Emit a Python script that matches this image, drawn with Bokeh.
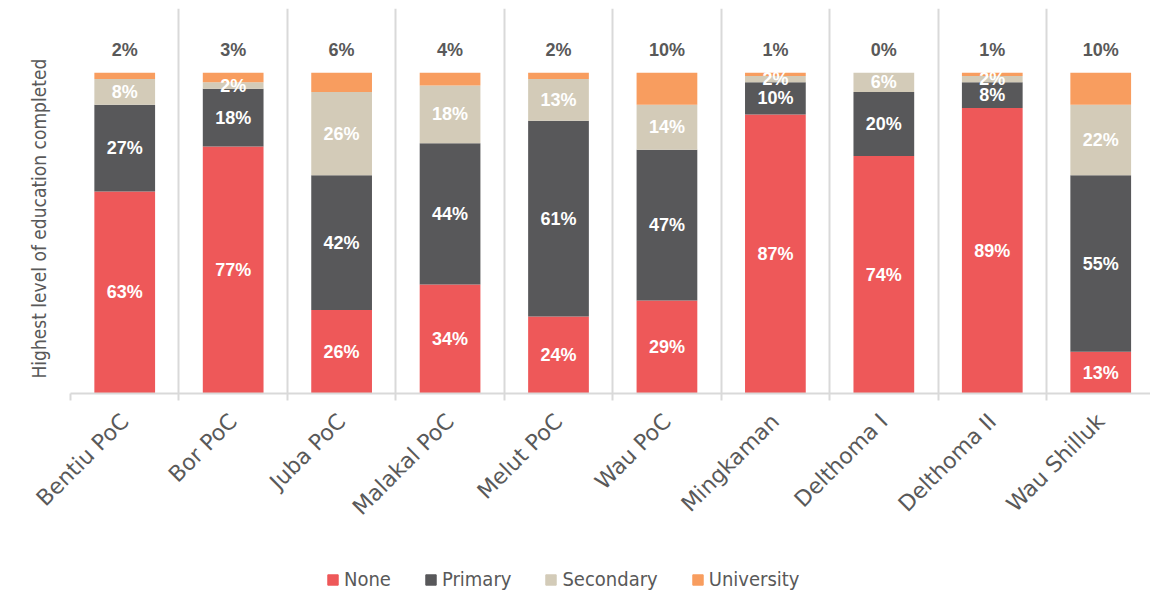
import math
from bokeh.plotting import figure
from bokeh.layouts import column
from bokeh.models import ColumnDataSource, Range1d, FixedTicker, Legend, LegendItem, Title
from bokeh.core.properties import value
from bokeh.embed import file_html
from bokeh.resources import INLINE

categories = ["Bentiu PoC", "Bor PoC", "Juba PoC", "Malakal PoC", "Melut PoC",
              "Wau PoC", "Mingkaman", "Delthoma I", "Delthoma II", "Wau Shilluk"]
none_vals = [63, 77, 26, 34, 24, 29, 87, 74, 89, 13]
primary_vals = [27, 18, 42, 44, 61, 47, 10, 20, 8, 55]
secondary_vals = [8, 2, 26, 18, 13, 14, 2, 6, 2, 22]
university_vals = [2, 3, 6, 4, 2, 10, 1, 0, 1, 10]
series = ["None", "Primary", "Secondary", "University"]
colors = ["#EE5859", "#58585A", "#D3CBB8", "#F89D5F"]
y_title = "Highest level of education completed"

GRID = "#D9D9D9"
TXT = "#595959"
NARROW = "DejaVu Sans Condensed"
LAB = "Liberation Sans"

n = len(categories)
xs = [i + 0.5 for i in range(n)]
data = dict(x=xs, cat=categories)
for s, v in zip(series, [none_vals, primary_vals, secondary_vals, university_vals]):
    data[s] = v
src = ColumnDataSource(data)

p = figure(width=1150, height=560, output_backend="svg", toolbar_location=None,
           x_range=Range1d(0, 9.959), y_range=Range1d(0, 120),
           min_border_top=8, min_border_right=0, min_border_left=70,
           min_border_bottom=167)
p.outline_line_color = None
p.background_fill_color = "white"

rends = p.vbar_stack(series, x="x", width=0.56, color=colors, source=src,
                     line_color=None)

# labels
bottoms = [0] * n
for s, vals in zip(series, [none_vals, primary_vals, secondary_vals, university_vals]):
    if s == "University":
        tops = [b + v for b, v in zip(bottoms, vals)]
        ys = [t + 7 for t in tops]
        col = TXT
    else:
        ys = [b + v / 2 for b, v in zip(bottoms, vals)]
        col = "white"
    lab = ColumnDataSource(dict(x=xs, y=ys, t=[f"{v}%" for v in vals]))
    p.text(x="x", y="y", text="t", source=lab, text_align="center",
           text_baseline="middle", text_color=col, text_font=value(LAB),
           text_font_style="bold", text_font_size="18px")
    bottoms = [b + v for b, v in zip(bottoms, vals)]

ticker = FixedTicker(ticks=xs, minor_ticks=list(range(n + 1)))
p.xaxis.ticker = ticker
p.xgrid.ticker = ticker
p.xaxis.major_label_overrides = {x: c for x, c in zip(xs, categories)}
p.xaxis.major_label_orientation = math.pi / 4
p.xaxis.major_label_text_font = "DejaVu Sans"
p.xaxis.major_label_text_font_size = "22px"
p.xaxis.major_label_text_color = TXT
p.xaxis.major_tick_line_color = None
p.xaxis.minor_tick_line_color = GRID
p.xaxis.minor_tick_line_width = 2
p.xaxis.minor_tick_in = 0
p.xaxis.minor_tick_out = 7
p.xaxis.axis_line_color = GRID
p.xaxis.axis_line_width = 2
p.xaxis.major_label_standoff = 17

p.xgrid.grid_line_color = None
p.xgrid.minor_grid_line_color = GRID
p.xgrid.minor_grid_line_width = 2
p.ygrid.grid_line_color = None

p.yaxis.visible = False
ytitle = Title(text=y_title, align="left", offset=15, standoff=38,
               vertical_align="top",
               text_font=NARROW, text_font_size="19px", text_font_style="normal",
               text_color=TXT)
p.add_layout(ytitle, "left")

# legend strip below the chart
lg = figure(width=1150, height=35, output_backend="svg", toolbar_location=None,
            x_range=Range1d(0, 1), y_range=Range1d(0, 1),
            min_border=0)
lg.outline_line_color = None
lg.axis.visible = False
lg.grid.visible = False
hidden = ColumnDataSource(dict(x=[5], top=[5]))
lrs = [lg.vbar(x="x", top="top", width=0.5, color=c, source=hidden) for c in colors]
legend = Legend(items=[LegendItem(label=s, renderers=[r]) for s, r in zip(series, lrs)],
                orientation="horizontal", location=(256, 4),
                label_text_font=NARROW, label_text_font_size="20px",
                label_text_color=TXT, glyph_width=13, glyph_height=13,
                label_standoff=5, spacing=33, padding=0, margin=0,
                border_line_color=None, background_fill_alpha=0)
lg.add_layout(legend, "center")

layout = column(p, lg, spacing=0)
open("out.html", "w").write(file_html(layout, INLINE))
